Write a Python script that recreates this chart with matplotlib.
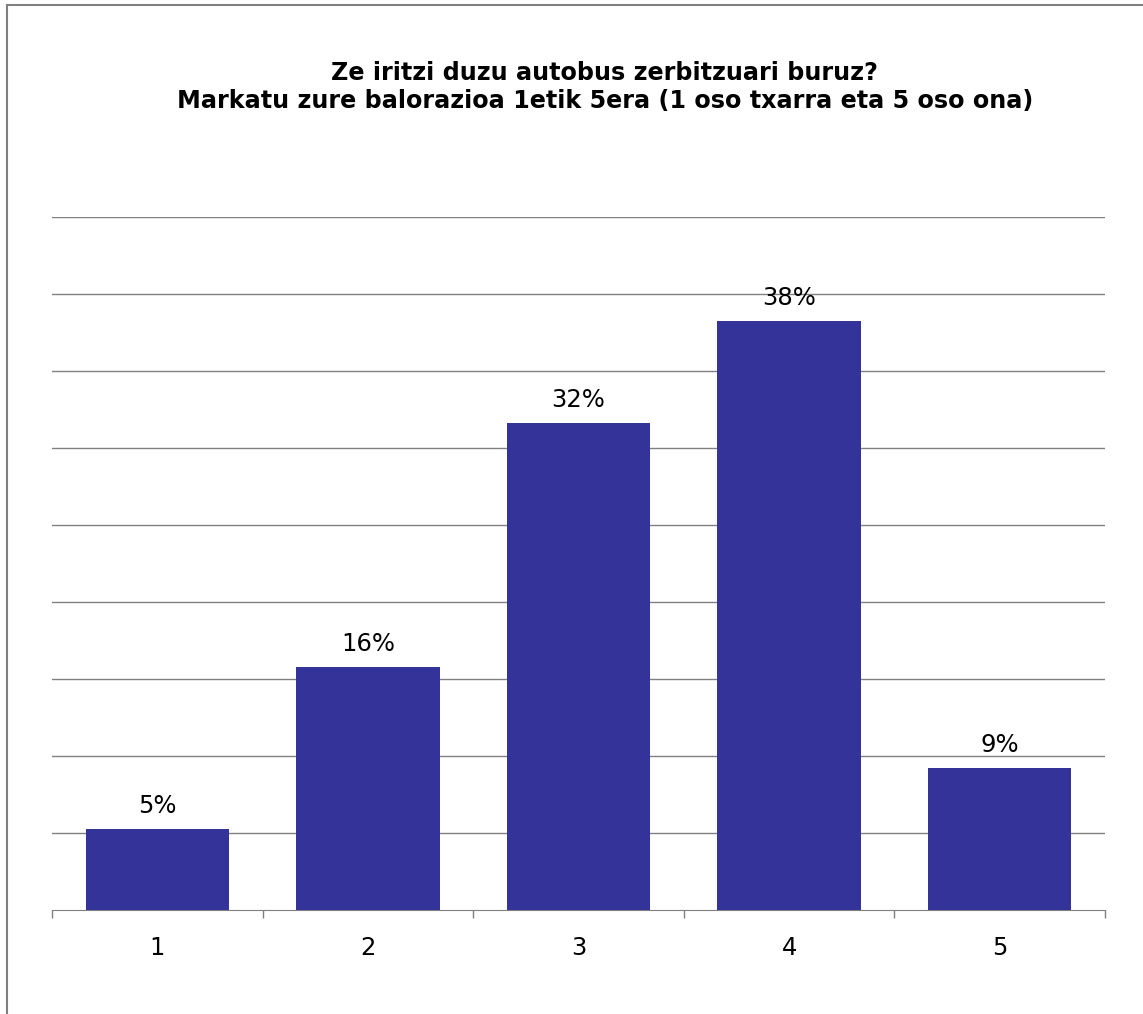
import numpy as np
import matplotlib.pyplot as plt
from matplotlib.patches import Rectangle

categories = ['1', '2', '3', '4', '5']
values = [5.26, 15.78, 31.62, 38.25, 9.22]  # percentages
labels = ['5%', '16%', '32%', '38%', '9%']

W, H = 1143, 1014
fig = plt.figure(figsize=(W / 100, H / 100), dpi=100)
ax = fig.add_axes([52 / W, 1 - 910 / H, (1105 - 52) / W, (910 - 217) / H])

x = np.arange(len(categories))
ax.bar(x, values, width=0.68, color='#333399', zorder=3)
ax.set_xlim(-0.5, len(categories) - 0.5)
ax.set_ylim(0, 45)
ax.set_yticks(np.arange(5, 46, 5))
ax.yaxis.grid(True, color='#808080', linewidth=1)
ax.tick_params(axis='y', left=False, labelleft=False)

# ticks sit between categories, labels centred under bars
ax.set_xticks(np.arange(-0.5, len(categories), 1))
ax.set_xticklabels([])
ax.set_xticks(x, minor=True)
ax.set_xticklabels(categories, minor=True, fontsize=17.5)
ax.tick_params(axis='x', which='major', length=6, color='#808080', width=1)
ax.tick_params(axis='x', which='minor', length=0, pad=19)

for s in ['top', 'right', 'left']:
    ax.spines[s].set_visible(False)
ax.spines['bottom'].set_color('#808080')

for xi, v, lab in zip(x, values, labels):
    ax.annotate(lab, (xi, v), xytext=(0, 8), textcoords='offset points',
                ha='center', va='bottom', fontsize=17.5)

fig.text(0.529, 1 - 87 / H, 'Ze iritzi duzu autobus zerbitzuari buruz?\nMarkatu zure balorazioa 1etik 5era (1 oso txarra eta 5 oso ona)',
         ha='center', va='center', fontsize=17.2, fontweight='bold', linespacing=1.2)

# outer frame of the chart area
fig.patches.append(Rectangle((7 / W, -0.1), 1.2, 1 - 5 / H + 0.1, transform=fig.transFigure,
                             fill=False, edgecolor='#808080', linewidth=1.5))

fig.savefig('out.png', dpi=100)
